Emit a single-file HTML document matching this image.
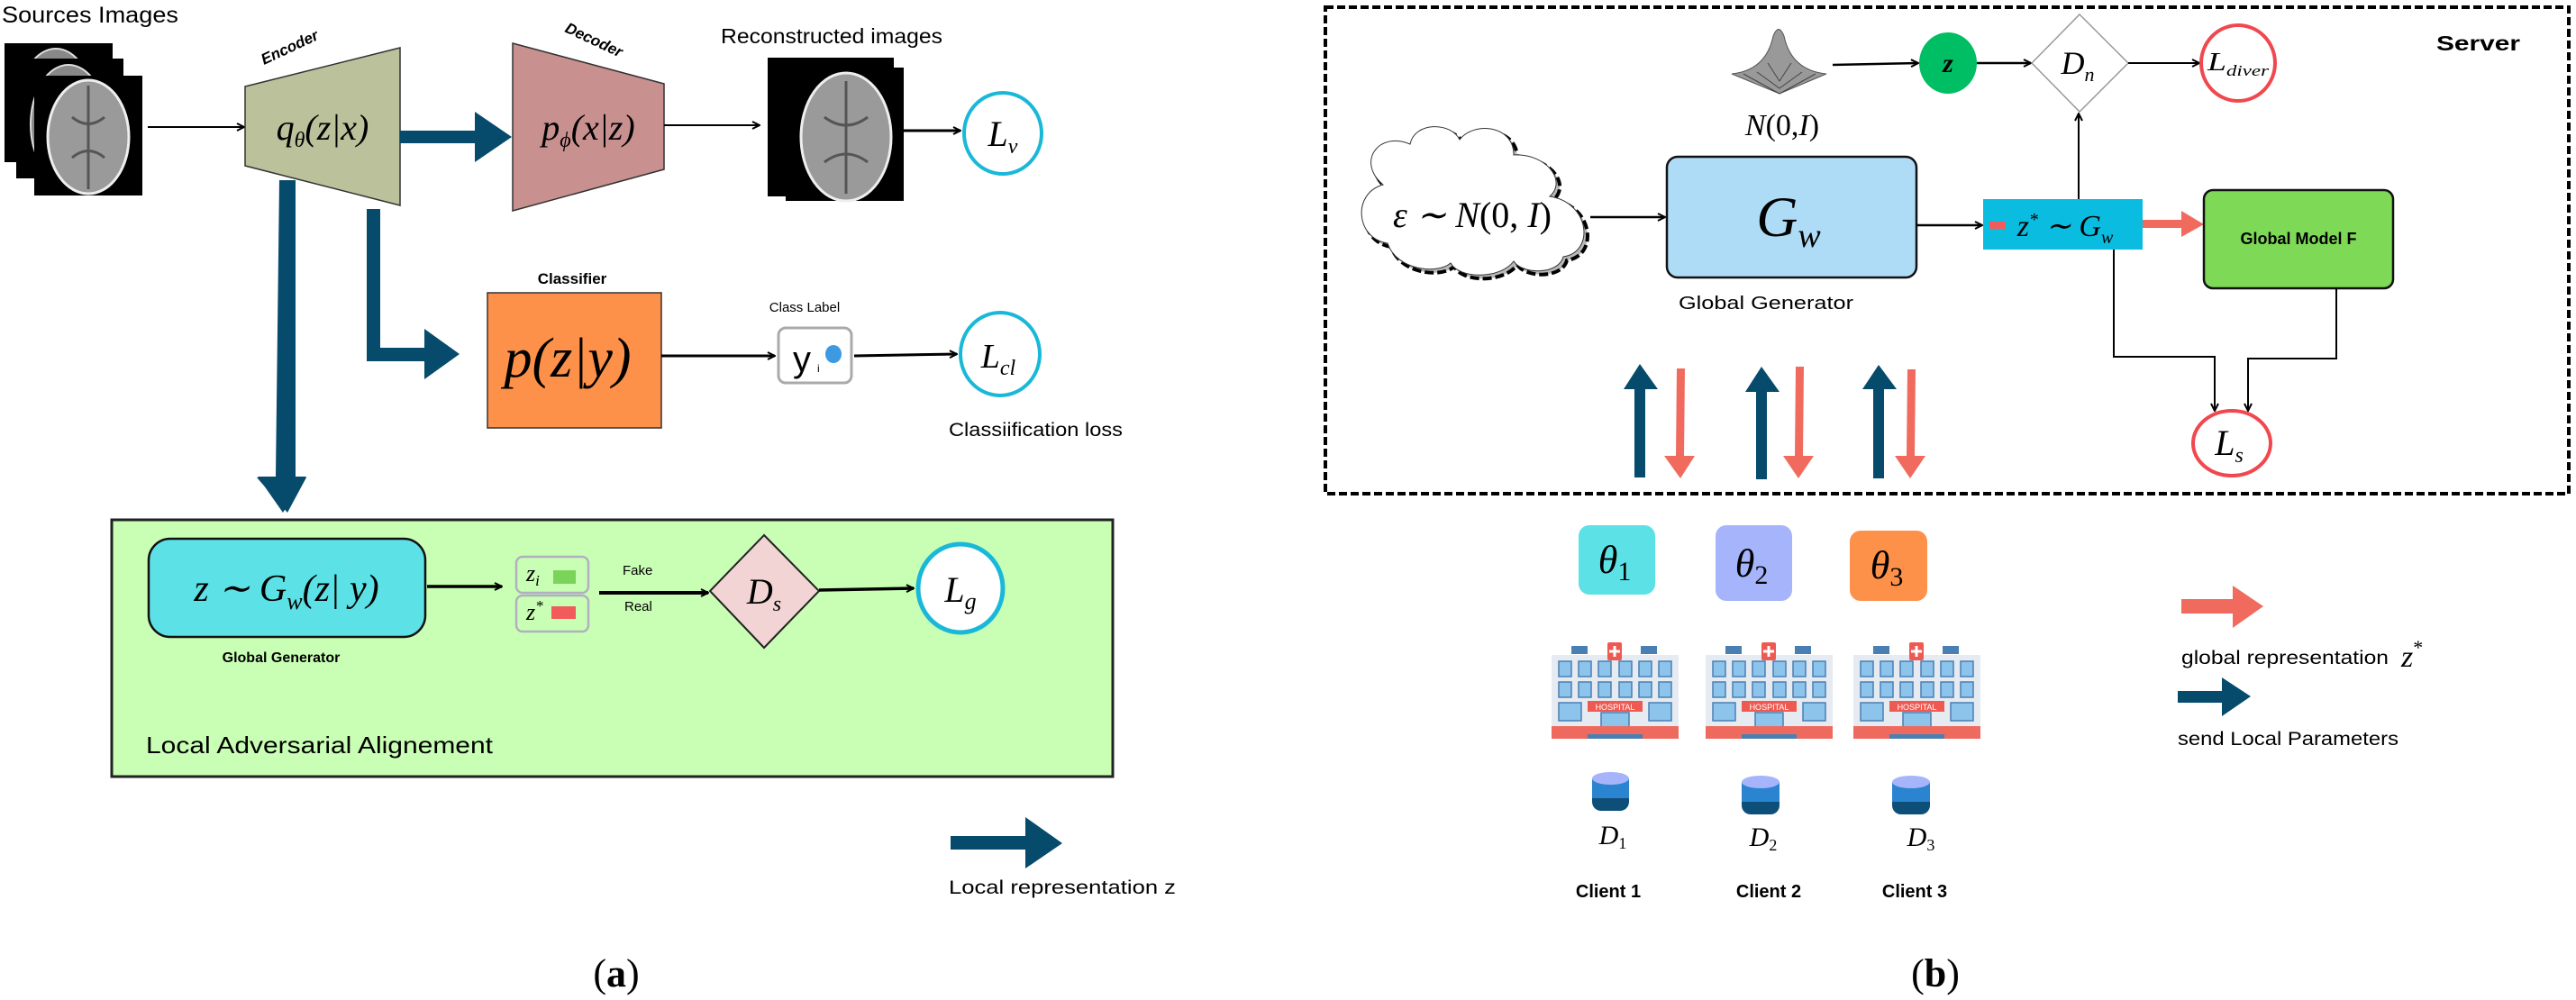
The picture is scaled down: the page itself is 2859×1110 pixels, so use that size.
<!DOCTYPE html>
<html><head><meta charset="utf-8"><style>
html,body{margin:0;padding:0;background:#fff;}
svg{display:block;}
.s{font-family:"Liberation Sans",sans-serif;}
.m{font-family:"Liberation Serif",serif;font-style:italic;}
</style></head><body>
<svg width="2859" height="1110" viewBox="0 0 2859 1110" xmlns="http://www.w3.org/2000/svg">
<defs>
<marker id="ah" markerWidth="10" markerHeight="10" refX="9" refY="5" orient="auto" markerUnits="userSpaceOnUse"><path d="M1,1 L9,5 L1,9" fill="none" stroke="#000" stroke-width="2"/></marker>
</defs>
<!-- ========== PANEL A ========== -->
<text x="2" y="25" class="s" font-size="25" textLength="196" lengthAdjust="spacingAndGlyphs">Sources Images</text>
<!-- source brains -->
<rect x="5" y="48" width="120" height="132" fill="#000"/>
<ellipse cx="62" cy="120" rx="42" ry="66" fill="#888" stroke="#ddd" stroke-width="2"/>
<rect x="18" y="65" width="119" height="133" fill="#000"/>
<ellipse cx="76" cy="138" rx="42" ry="66" fill="#888" stroke="#ddd" stroke-width="2"/>
<rect x="38" y="84" width="120" height="133" fill="#000"/>
<ellipse cx="98" cy="152" rx="45" ry="63" fill="#9a9a9a" stroke="#eee" stroke-width="3"/>
<path d="M98 95 L98 210 M80 130 Q98 145 116 130 M80 175 Q98 160 116 175" stroke="#555" stroke-width="3" fill="none"/>
<line x1="164" y1="141" x2="271" y2="141" stroke="#000" stroke-width="2" marker-end="url(#ah)"/>
<!-- encoder -->
<polygon points="272,96 444,53 444,228 272,184" fill="#bbc19a" stroke="#333" stroke-width="1.5"/>
<text x="0" y="0" class="s" font-size="17" font-weight="bold" font-style="italic" transform="translate(293,72) rotate(-25)">Encoder</text>
<text x="358" y="155" class="m" font-size="40" text-anchor="middle">q<tspan font-size="24" dy="8">θ</tspan><tspan dy="-8">(z|x)</tspan></text>
<!-- thick arrow enc->dec -->
<polygon points="444,145 527,145 527,124 568,152 527,180 527,159 444,159" fill="#064b6b"/>
<!-- decoder -->
<polygon points="569,48 737,93 737,188 569,234" fill="#c99090" stroke="#333" stroke-width="1.5"/>
<text x="0" y="0" class="s" font-size="17" font-weight="bold" font-style="italic" transform="translate(626,35) rotate(25)">Decoder</text>
<text x="653" y="155" class="m" font-size="40" text-anchor="middle">p<tspan font-size="24" dy="8">ϕ</tspan><tspan dy="-8">(x|z)</tspan></text>
<line x1="737" y1="139" x2="843" y2="139" stroke="#000" stroke-width="2" marker-end="url(#ah)"/>
<text x="800" y="48" class="s" font-size="23" textLength="246" lengthAdjust="spacingAndGlyphs">Reconstructed images</text>
<!-- recon brains -->
<rect x="852" y="64" width="140" height="154" fill="#000"/>
<rect x="872" y="75" width="131" height="148" fill="#000"/>
<ellipse cx="939" cy="152" rx="50" ry="71" fill="#9a9a9a" stroke="#eee" stroke-width="3"/>
<path d="M939 90 L939 215 M915 130 Q939 148 963 130 M915 180 Q939 162 963 180" stroke="#555" stroke-width="3" fill="none"/>
<line x1="1003" y1="145" x2="1066" y2="145" stroke="#000" stroke-width="3" marker-end="url(#ah)"/>
<ellipse cx="1113" cy="148" rx="43" ry="45" fill="#fff" stroke="#1ab8d8" stroke-width="4"/>
<text x="1113" y="162" class="m" font-size="40" text-anchor="middle">L<tspan font-size="24" dy="8">v</tspan></text>
<!-- big down arrow -->
<polygon points="310,200 328,200 328,530 340,530 319,569 285,530 310,530" fill="#064b6b"/>
<polygon points="310,200 328,200 326,529 340,529 314,569 286,529 306,529" fill="#064b6b"/>
<!-- elbow arrow -->
<polygon points="407,232 422,232 422,386 471,386 471,365 510,393 471,421 471,401 407,401" fill="#064b6b"/>
<!-- classifier -->
<text x="635" y="315" class="s" font-size="17" font-weight="bold" text-anchor="middle">Classifier</text>
<rect x="541" y="325" width="193" height="150" fill="#fe914a" stroke="#333" stroke-width="1.5"/>
<text x="630" y="418" class="m" font-size="62" text-anchor="middle">p(z|y)</text>
<line x1="734" y1="395" x2="860" y2="395" stroke="#000" stroke-width="3" marker-end="url(#ah)"/>
<text x="893" y="346" class="s" font-size="15" text-anchor="middle">Class Label</text>
<rect x="864" y="364" width="81" height="61" rx="8" fill="#fff" stroke="#aaa" stroke-width="3"/>
<text x="880" y="412" class="s" font-size="40">y</text>
<text x="907" y="413" class="s" font-size="12">i</text>
<ellipse cx="925" cy="393" rx="9" ry="10" fill="#3d9ae0"/>
<line x1="948" y1="395" x2="1062" y2="393" stroke="#000" stroke-width="3" marker-end="url(#ah)"/>
<ellipse cx="1110" cy="393" rx="44" ry="46" fill="#fff" stroke="#1ab8d8" stroke-width="4"/>
<text x="1108" y="408" class="m" font-size="38" text-anchor="middle">L<tspan font-size="24" dy="8">cl</tspan></text>
<text x="1053" y="484" class="s" font-size="21" textLength="193" lengthAdjust="spacingAndGlyphs">Classiification loss</text>
<!-- green box -->
<rect x="124" y="577" width="1111" height="285" fill="#c9ffb4" stroke="#222" stroke-width="3"/>
<rect x="165" y="598" width="307" height="109" rx="24" fill="#5ce1e6" stroke="#111" stroke-width="2.5"/>
<text x="318" y="667" class="m" font-size="42" text-anchor="middle">z ∼ G<tspan font-size="26" dy="9">w</tspan><tspan dy="-9">(z| y)</tspan></text>
<text x="312" y="735" class="s" font-size="16" font-weight="bold" text-anchor="middle">Global Generator</text>
<line x1="474" y1="651" x2="557" y2="651" stroke="#000" stroke-width="3.5" marker-end="url(#ah)"/>
<rect x="573" y="618" width="80" height="40" rx="7" fill="none" stroke="#b0b0c0" stroke-width="2.5"/>
<rect x="573" y="661" width="80" height="40" rx="7" fill="none" stroke="#b0b0c0" stroke-width="2.5"/>
<text x="584" y="645" class="m" font-size="26">z<tspan font-size="17" dy="5">i</tspan></text>
<rect x="614" y="633" width="25" height="15" fill="#7cd35a"/>
<text x="584" y="688" class="m" font-size="26">z<tspan font-size="17" dy="-10">*</tspan></text>
<rect x="612" y="673" width="27" height="14" fill="#f25b5b"/>
<text x="691" y="638" class="s" font-size="15">Fake</text>
<text x="693" y="678" class="s" font-size="15">Real</text>
<line x1="665" y1="658" x2="786" y2="658" stroke="#000" stroke-width="4" marker-end="url(#ah)"/>
<polygon points="848,594 909,656 848,719 788,656" fill="#f2d4d4" stroke="#222" stroke-width="2"/>
<text x="848" y="670" class="m" font-size="40" text-anchor="middle">D<tspan font-size="24" dy="8">s</tspan></text>
<line x1="909" y1="655" x2="1014" y2="653" stroke="#000" stroke-width="3.5" marker-end="url(#ah)"/>
<ellipse cx="1066" cy="653" rx="47" ry="49" fill="#fff" stroke="#1ab8d8" stroke-width="5"/>
<text x="1066" y="668" class="m" font-size="40" text-anchor="middle">L<tspan font-size="26" dy="8">g</tspan></text>
<text x="162" y="836" class="s" font-size="26" textLength="385" lengthAdjust="spacingAndGlyphs">Local Adversarial Alignement</text>
<!-- legend a -->
<polygon points="1055,928 1138,928 1138,907 1179,936 1138,964 1138,943 1055,943" fill="#064b6b"/>
<text x="1053" y="992" class="s" font-size="21" textLength="252" lengthAdjust="spacingAndGlyphs">Local representation z</text>
<text x="684" y="1095" font-family="Liberation Serif,serif" font-size="44" text-anchor="middle">(<tspan font-weight="bold">a</tspan>)</text>

<!-- ========== PANEL B ========== -->
<rect x="1471" y="8" width="1380" height="540" fill="none" stroke="#000" stroke-width="4" stroke-dasharray="9,4"/>
<text x="2704" y="56" class="s" font-size="23" font-weight="bold" textLength="93" lengthAdjust="spacingAndGlyphs">Server</text>
<!-- gaussian -->
<path d="M1922,82 Q1960,78 1968,40 Q1974,25 1980,40 Q1988,78 2027,82 L1975,104 Z" fill="#999" stroke="#555" stroke-width="1"/>
<path d="M1935,82 L1975,104 L2015,82 M1950,80 L1975,98 L2000,80 M1962,70 L1975,90 L1988,70" stroke="#444" fill="none"/>
<text x="1978" y="150" class="m" font-size="34" text-anchor="middle">N<tspan font-style="normal">(0,</tspan>I<tspan font-style="normal">)</tspan></text>
<line x1="2034" y1="72" x2="2129" y2="70" stroke="#000" stroke-width="2.5" marker-end="url(#ah)"/>
<ellipse cx="2162" cy="70" rx="32" ry="34" fill="#00be63"/>
<text x="2162" y="80" class="m" font-size="30" font-weight="bold" text-anchor="middle">z</text>
<line x1="2194" y1="70" x2="2254" y2="70" stroke="#000" stroke-width="2.5" marker-end="url(#ah)"/>
<polygon points="2308,16 2362,70 2308,124 2255,70" fill="#fff" stroke="#999" stroke-width="1.5"/>
<text x="2306" y="82" class="m" font-size="36" text-anchor="middle">D<tspan font-size="22" dy="8">n</tspan></text>
<line x1="2362" y1="70" x2="2441" y2="70" stroke="#000" stroke-width="2" marker-end="url(#ah)"/>
<ellipse cx="2484" cy="70" rx="41" ry="42" fill="#fff" stroke="#f0484e" stroke-width="4"/>
<text x="2484" y="78" class="m" font-size="28" text-anchor="middle" textLength="68" lengthAdjust="spacingAndGlyphs">L<tspan font-size="17" dy="6">diver</tspan></text>
<!-- cloud -->
<path d="M1540,270 C1505,265 1500,215 1535,205 C1505,180 1530,145 1565,160 C1570,135 1610,135 1620,155 C1635,135 1680,138 1680,172 C1715,170 1740,200 1720,218 C1765,225 1770,280 1735,285 C1730,305 1690,305 1680,290 C1665,310 1620,310 1610,292 C1595,305 1550,300 1540,270 Z" fill="#b8b8b8" stroke="#000" stroke-width="4" stroke-dasharray="10,4" transform="translate(4,4)"/>
<path d="M1540,270 C1505,265 1500,215 1535,205 C1505,180 1530,145 1565,160 C1570,135 1610,135 1620,155 C1635,135 1680,138 1680,172 C1715,170 1740,200 1720,218 C1765,225 1770,280 1735,285 C1730,305 1690,305 1680,290 C1665,310 1620,310 1610,292 C1595,305 1550,300 1540,270 Z" fill="#fff" stroke="#333" stroke-width="1"/>
<text x="1634" y="252" class="m" font-size="40" text-anchor="middle">ε ∼ N<tspan font-style="normal">(0, </tspan>I<tspan font-style="normal">)</tspan></text>
<line x1="1765" y1="241" x2="1848" y2="241" stroke="#000" stroke-width="2.5" marker-end="url(#ah)"/>
<rect x="1850" y="174" width="277" height="134" rx="12" fill="#aedcf7" stroke="#111" stroke-width="2.5"/>
<text x="1985" y="262" class="m" font-size="64" text-anchor="middle">G<tspan font-size="38" dy="12">w</tspan></text>
<text x="1960" y="343" class="s" font-size="20" text-anchor="middle" textLength="194" lengthAdjust="spacingAndGlyphs">Global Generator</text>
<line x1="2127" y1="250" x2="2200" y2="250" stroke="#000" stroke-width="2.5" marker-end="url(#ah)"/>
<rect x="2201" y="221" width="177" height="56" fill="#0abde0"/>
<rect x="2208" y="246" width="18" height="8" fill="#f25b5b"/>
<text x="2292" y="262" class="m" font-size="34" text-anchor="middle">z<tspan font-size="20" dy="-12">*</tspan><tspan dy="12"> ∼ G</tspan><tspan font-size="20" dy="8">w</tspan></text>
<line x1="2307" y1="221" x2="2307" y2="126" stroke="#000" stroke-width="2" marker-end="url(#ah)"/>
<polygon points="2378,244 2421,244 2421,234 2446,249 2421,263 2421,253 2378,253" fill="#f06b5e"/>
<rect x="2446" y="211" width="210" height="109" rx="10" fill="#7ed957" stroke="#111" stroke-width="2.5"/>
<text x="2551" y="271" class="s" font-size="18" font-weight="bold" text-anchor="middle">Global Model F</text>
<polyline points="2346,277 2346,396 2458,396 2458,456" fill="none" stroke="#000" stroke-width="2" marker-end="url(#ah)"/>
<polyline points="2593,320 2593,398 2495,398 2495,456" fill="none" stroke="#000" stroke-width="2" marker-end="url(#ah)"/>
<ellipse cx="2477" cy="492" rx="43" ry="36" fill="#fff" stroke="#f0484e" stroke-width="4"/>
<text x="2474" y="505" class="m" font-size="40" text-anchor="middle">L<tspan font-size="24" dy="8">s</tspan></text>
<!-- up/down arrows -->
<g fill="#064b6b">
<polygon points="1814,530 1826,530 1826,432 1840,432 1820,404 1802,432 1814,432"/>
<polygon points="1949,532 1961,532 1961,435 1975,435 1955,407 1937,435 1949,435"/>
<polygon points="2079,531 2091,531 2091,432 2105,432 2085,405 2067,432 2079,432"/>
</g>
<g fill="#f06b5e">
<polygon points="1861,409 1870,409 1869,506 1881,506 1865,531 1847,506 1860,506"/>
<polygon points="1993,407 2002,407 2001,506 2013,506 1996,531 1979,506 1992,506"/>
<polygon points="2117,410 2126,410 2125,506 2137,506 2120,531 2103,506 2116,506"/>
</g>
<!-- thetas -->
<rect x="1752" y="583" width="85" height="77" rx="12" fill="#5ce1e6"/>
<text x="1792" y="636" class="m" font-size="44" text-anchor="middle">θ<tspan font-size="30" dy="8" font-style="normal">1</tspan></text>
<rect x="1904" y="583" width="85" height="84" rx="12" fill="#a6b5fb"/>
<text x="1944" y="640" class="m" font-size="44" text-anchor="middle">θ<tspan font-size="30" dy="8" font-style="normal">2</tspan></text>
<rect x="2053" y="589" width="86" height="78" rx="12" fill="#fe914a"/>
<text x="2094" y="642" class="m" font-size="44" text-anchor="middle">θ<tspan font-size="30" dy="8" font-style="normal">3</tspan></text>
<!-- hospitals -->
<g transform="translate(1722,713)">
<rect x="0" y="14" width="141" height="93" fill="#e6ebf1"/>
<rect x="22" y="4" width="18" height="9" fill="#4a7fb3"/><rect x="99" y="4" width="18" height="9" fill="#4a7fb3"/>
<rect x="62" y="0" width="16" height="20" rx="2" fill="#ee5a52"/><path d="M70 4 V16 M64 10 H76" stroke="#fff" stroke-width="3"/>
<g fill="#8cc4ec" stroke="#4a7fb3" stroke-width="1.5">
<rect x="8" y="21" width="14" height="17"/><rect x="30" y="21" width="14" height="17"/><rect x="52" y="21" width="14" height="17"/><rect x="75" y="21" width="14" height="17"/><rect x="97" y="21" width="14" height="17"/><rect x="119" y="21" width="14" height="17"/>
<rect x="8" y="44" width="14" height="17"/><rect x="30" y="44" width="14" height="17"/><rect x="52" y="44" width="14" height="17"/><rect x="75" y="44" width="14" height="17"/><rect x="97" y="44" width="14" height="17"/><rect x="119" y="44" width="14" height="17"/>
<rect x="8" y="67" width="25" height="20"/><rect x="108" y="67" width="25" height="20"/>
<rect x="55" y="78" width="31" height="26"/>
</g>
<rect x="40" y="65" width="61" height="12" fill="#ee5a52"/>
<text x="70.5" y="75" class="s" font-size="9" fill="#fff" text-anchor="middle">HOSPITAL</text>
<rect x="0" y="93" width="141" height="14" fill="#ee6a5e"/>
<rect x="40" y="102" width="61" height="5" fill="#4a7fb3"/>
</g>
<g transform="translate(1893,713)">
<rect x="0" y="14" width="141" height="93" fill="#e6ebf1"/>
<rect x="22" y="4" width="18" height="9" fill="#4a7fb3"/><rect x="99" y="4" width="18" height="9" fill="#4a7fb3"/>
<rect x="62" y="0" width="16" height="20" rx="2" fill="#ee5a52"/><path d="M70 4 V16 M64 10 H76" stroke="#fff" stroke-width="3"/>
<g fill="#8cc4ec" stroke="#4a7fb3" stroke-width="1.5">
<rect x="8" y="21" width="14" height="17"/><rect x="30" y="21" width="14" height="17"/><rect x="52" y="21" width="14" height="17"/><rect x="75" y="21" width="14" height="17"/><rect x="97" y="21" width="14" height="17"/><rect x="119" y="21" width="14" height="17"/>
<rect x="8" y="44" width="14" height="17"/><rect x="30" y="44" width="14" height="17"/><rect x="52" y="44" width="14" height="17"/><rect x="75" y="44" width="14" height="17"/><rect x="97" y="44" width="14" height="17"/><rect x="119" y="44" width="14" height="17"/>
<rect x="8" y="67" width="25" height="20"/><rect x="108" y="67" width="25" height="20"/>
<rect x="55" y="78" width="31" height="26"/>
</g>
<rect x="40" y="65" width="61" height="12" fill="#ee5a52"/>
<text x="70.5" y="75" class="s" font-size="9" fill="#fff" text-anchor="middle">HOSPITAL</text>
<rect x="0" y="93" width="141" height="14" fill="#ee6a5e"/>
<rect x="40" y="102" width="61" height="5" fill="#4a7fb3"/>
</g>
<g transform="translate(2057,713)">
<rect x="0" y="14" width="141" height="93" fill="#e6ebf1"/>
<rect x="22" y="4" width="18" height="9" fill="#4a7fb3"/><rect x="99" y="4" width="18" height="9" fill="#4a7fb3"/>
<rect x="62" y="0" width="16" height="20" rx="2" fill="#ee5a52"/><path d="M70 4 V16 M64 10 H76" stroke="#fff" stroke-width="3"/>
<g fill="#8cc4ec" stroke="#4a7fb3" stroke-width="1.5">
<rect x="8" y="21" width="14" height="17"/><rect x="30" y="21" width="14" height="17"/><rect x="52" y="21" width="14" height="17"/><rect x="75" y="21" width="14" height="17"/><rect x="97" y="21" width="14" height="17"/><rect x="119" y="21" width="14" height="17"/>
<rect x="8" y="44" width="14" height="17"/><rect x="30" y="44" width="14" height="17"/><rect x="52" y="44" width="14" height="17"/><rect x="75" y="44" width="14" height="17"/><rect x="97" y="44" width="14" height="17"/><rect x="119" y="44" width="14" height="17"/>
<rect x="8" y="67" width="25" height="20"/><rect x="108" y="67" width="25" height="20"/>
<rect x="55" y="78" width="31" height="26"/>
</g>
<rect x="40" y="65" width="61" height="12" fill="#ee5a52"/>
<text x="70.5" y="75" class="s" font-size="9" fill="#fff" text-anchor="middle">HOSPITAL</text>
<rect x="0" y="93" width="141" height="14" fill="#ee6a5e"/>
<rect x="40" y="102" width="61" height="5" fill="#4a7fb3"/>
</g>
<!-- databases -->
<g>
<rect x="1767" y="864" width="41" height="36" rx="10" fill="#0e4f7a"/><rect x="1767" y="864" width="41" height="22" fill="#2a84cf"/><ellipse cx="1787.5" cy="864" rx="20.5" ry="7" fill="#a6b5fb"/>
<rect x="1933" y="868" width="42" height="36" rx="10" fill="#0e4f7a"/><rect x="1933" y="868" width="42" height="22" fill="#2a84cf"/><ellipse cx="1954" cy="868" rx="21" ry="7" fill="#a6b5fb"/>
<rect x="2100" y="868" width="42" height="36" rx="10" fill="#0e4f7a"/><rect x="2100" y="868" width="42" height="22" fill="#2a84cf"/><ellipse cx="2121" cy="868" rx="21" ry="7" fill="#a6b5fb"/>
</g>
<text x="1790" y="937" class="m" font-size="30" text-anchor="middle">D<tspan font-size="18" dy="5" font-style="normal">1</tspan></text>
<text x="1957" y="939" class="m" font-size="30" text-anchor="middle">D<tspan font-size="18" dy="5" font-style="normal">2</tspan></text>
<text x="2132" y="939" class="m" font-size="30" text-anchor="middle">D<tspan font-size="18" dy="5" font-style="normal">3</tspan></text>
<text x="1785" y="996" class="s" font-size="20" font-weight="bold" text-anchor="middle">Client 1</text>
<text x="1963" y="996" class="s" font-size="20" font-weight="bold" text-anchor="middle">Client 2</text>
<text x="2125" y="996" class="s" font-size="20" font-weight="bold" text-anchor="middle">Client 3</text>
<!-- legend b -->
<polygon points="2421,665 2478,665 2478,650 2512,673 2478,697 2478,681 2421,681" fill="#f06b5e"/>
<text x="2421" y="737" class="s" font-size="21" textLength="230" lengthAdjust="spacingAndGlyphs">global representation</text>
<text x="2665" y="740" class="m" font-size="34">z<tspan font-size="22" dy="-14" font-style="normal">*</tspan></text>
<polygon points="2417,767 2466,767 2466,752 2498,773 2466,795 2466,780 2417,780" fill="#064b6b"/>
<text x="2417" y="827" class="s" font-size="21" textLength="245" lengthAdjust="spacingAndGlyphs">send Local Parameters</text>
<text x="2148" y="1095" font-family="Liberation Serif,serif" font-size="44" text-anchor="middle">(<tspan font-weight="bold">b</tspan>)</text>
</svg>
</body></html>
